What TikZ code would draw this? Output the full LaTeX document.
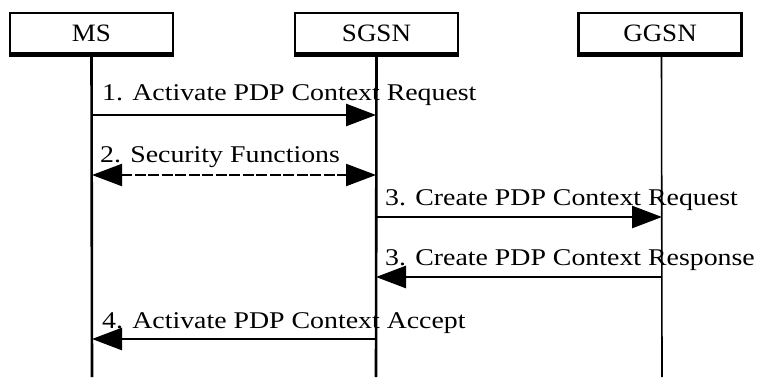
\documentclass[tikz,border=0pt]{standalone}
\usepackage{fontspec}
\setmainfont{Liberation Serif}
\newfontfamily\msgfont[FakeStretch=1.16]{Liberation Serif}
\newfontfamily\entfont[FakeStretch=1.08]{Liberation Serif}
\usetikzlibrary{arrows.meta}
\tikzset{
  entity/.style={draw, line width=2.2pt, minimum width=163pt, minimum height=40pt,
    inner sep=0pt, font=\entfont\fontsize{25}{28}\selectfont},
  lifeline/.style={line width=2.6pt},
  thinlife/.style={line width=1.6pt},
  msglabel/.style={anchor=base west, inner sep=0pt, text=black,
    font=\msgfont\fontsize{24}{28}\selectfont},
  msg/.style={line width=2.6pt, -{Triangle[length=30pt,width=22pt]}},
  secmsg/.style={line width=2.2pt, dash pattern=on 11pt off 2.5pt,
    {Triangle[length=30pt,width=22pt]}-{Triangle[length=30pt,width=22pt]}},
}
\begin{document}
\begin{tikzpicture}[x=1pt, y=-1pt]
\useasboundingbox (0,0) rectangle (759,377);

% entity boxes
\node[entity] (ms)   at (91.5,33)  {MS};
\node[entity] (sgsn) at (376.5,33) {SGSN};
\node[entity] (ggsn) at (660,33)   {GGSN};
\foreach \b in {ms,sgsn,ggsn}
  \draw[line width=4pt] ([yshift=-1pt]\b.south west) -- ([yshift=-1pt]\b.south east);

% lifeline ends and message end points
\coordinate (msend)   at (92,377);
\coordinate (sgsnend) at (376,377);
\coordinate (ggsnend) at (662,377);

\coordinate (m1a) at (92,115);  \coordinate (m1b) at (376,115);
\coordinate (m2a) at (92,175);  \coordinate (m2b) at (376,175);
\coordinate (m3a) at (376,217); \coordinate (m3b) at (662,217);
\coordinate (m4a) at (662,277); \coordinate (m4b) at (376,277);
\coordinate (m5a) at (376,339); \coordinate (m5b) at (92,339);

% message labels
\node[msglabel] (l1) at (102,101) {1. Activate PDP Context Request};
\node[msglabel] (l2) at (100,162) {2. Security Functions};
\node[msglabel] (l3) at (385,205) {3. Create PDP Context Request};
\node[msglabel] (l4) at (385,265) {3. Create PDP Context Response};
\node[msglabel] (l5) at (102,328) {4. Activate PDP Context Accept};

% lifelines
\draw[lifeline] (ms.south)   -- (msend);
\draw[lifeline] (sgsn.south) -- (sgsnend);
\draw[thinlife] (ggsn.south) ++(1.5,0) -- (ggsnend);

% messages
\draw[msg] (m1a) -- (m1b);
\draw[secmsg] (m2a) -- (m2b);
\draw[msg] (m3a) -- (m3b);
\draw[msg] (m4a) -- (m4b);
\draw[msg] (m5a) -- (m5b);
\end{tikzpicture}
\end{document}
